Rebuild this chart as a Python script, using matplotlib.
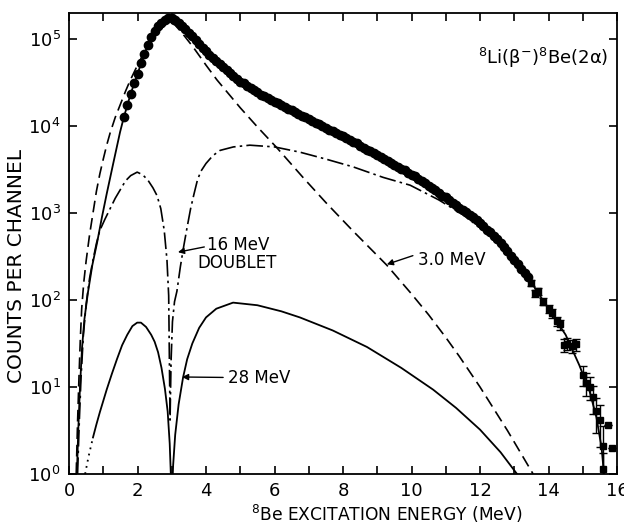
import matplotlib
matplotlib.use("Agg")
import matplotlib.pyplot as plt
import matplotlib.ticker as mticker
import numpy as np

plt.rcParams["font.family"] = "DejaVu Sans"
plt.rcParams["axes.linewidth"] = 1.3
plt.rcParams["mathtext.default"] = "regular"

# measured 8Be spectrum: excitation energy (MeV) and log10(counts per channel)
data_E = [1.6, 1.7, 1.8, 1.9, 2.0, 2.1, 2.2, 2.3, 2.4, 2.5, 2.6, 2.7, 2.8, 2.9,
          3.0, 3.1, 3.2, 3.3, 3.4, 3.5, 3.6, 3.7, 3.8, 3.9, 4.0, 4.1, 4.2, 4.3,
          4.4, 4.5, 4.6, 4.7, 4.8, 4.9, 5.0, 5.1, 5.2, 5.3, 5.4, 5.5, 5.6, 5.7,
          5.8, 5.9, 6.0, 6.1, 6.2, 6.3, 6.4, 6.5, 6.6, 6.7, 6.8, 6.9, 7.0, 7.1,
          7.2, 7.3, 7.4, 7.5, 7.6, 7.7, 7.8, 7.9, 8.0, 8.1, 8.2, 8.3, 8.4, 8.5,
          8.6, 8.7, 8.8, 8.9, 9.0, 9.1, 9.2, 9.3, 9.4, 9.5, 9.6, 9.7, 9.8, 9.9,
          10.0, 10.1, 10.2, 10.3, 10.4, 10.5, 10.6, 10.7, 10.8, 10.9, 11.0, 11.1,
          11.2, 11.3, 11.4, 11.5, 11.6, 11.7, 11.8, 11.9, 12.0, 12.1, 12.2, 12.3,
          12.4, 12.5, 12.6, 12.7, 12.8, 12.9, 13.0, 13.1, 13.2, 13.3, 13.4]
data_lg = [4.10, 4.24, 4.37, 4.49, 4.60, 4.72, 4.83, 4.93, 5.02, 5.09, 5.15, 5.19, 5.22, 5.24,
           5.24, 5.22, 5.19, 5.15, 5.11, 5.07, 5.03, 4.99, 4.94, 4.90, 4.86, 4.82, 4.78, 4.75,
           4.71, 4.68, 4.64, 4.61, 4.57, 4.54, 4.51, 4.49, 4.46, 4.44, 4.41, 4.39, 4.36, 4.34,
           4.32, 4.30, 4.28, 4.26, 4.24, 4.22, 4.20, 4.18, 4.16, 4.14, 4.12, 4.10, 4.08, 4.06,
           4.04, 4.02, 4.00, 3.98, 3.96, 3.94, 3.92, 3.90, 3.88, 3.86, 3.84, 3.82, 3.80, 3.77,
           3.75, 3.73, 3.71, 3.69, 3.67, 3.64, 3.62, 3.60, 3.58, 3.55, 3.53, 3.51, 3.49, 3.46,
           3.44, 3.42, 3.39, 3.37, 3.34, 3.31, 3.29, 3.26, 3.23, 3.20, 3.18, 3.15,
           3.12, 3.09, 3.06, 3.04, 3.01, 2.98, 2.95, 2.92, 2.88, 2.85, 2.81, 2.78,
           2.74, 2.70, 2.66, 2.61, 2.56, 2.51, 2.46, 2.41, 2.36, 2.31, 2.26]

# high-energy points with error bars (counts)
tail_E = [13.5, 13.6, 13.7, 13.85, 14.0, 14.1, 14.25, 14.35, 14.45, 14.55, 14.7, 14.8,
          15.0, 15.1, 15.2, 15.3, 15.4, 15.5, 15.75, 15.6, 15.85, 15.6]
tail_lg = [2.20, 2.08, 2.10, 1.98, 1.90, 1.85, 1.76, 1.72, 1.48, 1.50, 1.47, 1.49,
           1.14, 1.05, 1.00, 0.88, 0.72, 0.62, 0.56, 0.32, 0.30, 0.06]
tail_err = [12, 11, 11, 9, 8, 8, 7, 7, 5, 5, 5, 5,
            3.5, 3.3, 3.0, 2.7, 2.3, 2.1, 0, 1.5, 0, 0.6]

# total fit (solid)
fit_E = [0.23, 0.27, 0.32, 0.38, 0.45, 0.55, 0.68, 0.82, 0.96, 1.1, 1.28, 1.49, 1.6,
         1.8, 2.0, 2.25, 2.5, 2.7, 2.85, 2.95, 3.1, 3.3, 3.5, 3.82, 4.3, 5.08, 6.0,
         6.74, 7.5, 8.5, 9.66, 10.5, 11.6, 12.2, 12.88, 13.5, 14.0, 14.5, 14.9, 15.2,
         15.4, 15.55, 15.62]
fit_lg = [0.0, 0.5, 1.0, 1.45, 1.78, 2.08, 2.4, 2.66, 2.95, 3.22, 3.55, 3.93, 4.1,
          4.37, 4.60, 4.88, 5.09, 5.19, 5.23, 5.24, 5.22, 5.15, 5.07, 4.93, 4.75, 4.50, 4.28,
          4.13, 3.98, 3.77, 3.52, 3.31, 3.01, 2.83, 2.50, 2.20, 1.90, 1.60, 1.25, 0.95,
          0.65, 0.30, 0.0]

# 3.0 MeV level (long dashes)
e30_E = [0.21, 0.25, 0.29, 0.33, 0.37, 0.43, 0.5, 0.6, 0.7, 0.8, 0.9, 1.0, 1.1, 1.2,
         1.35, 1.5, 1.65, 1.78, 2.0, 2.2, 2.4, 2.6, 2.8, 2.95, 3.1, 3.3, 3.5, 3.62,
         3.82, 4.0, 4.32, 5.0, 5.5, 6.07, 6.83, 7.5, 8.3, 9.28, 10.0, 10.5, 11.0,
         11.4, 12.0, 12.8, 13.55]
e30_lg = [0.0, 0.6, 1.1, 1.55, 1.9, 2.2, 2.45, 2.75, 3.0, 3.25, 3.45, 3.62, 3.78, 3.92,
          4.1, 4.25, 4.4, 4.52, 4.7, 4.85, 4.98, 5.08, 5.16, 5.19, 5.16, 5.07, 4.97, 4.91,
          4.8, 4.7, 4.53, 4.21, 3.99, 3.75, 3.41, 3.12, 2.79, 2.40, 2.07, 1.83, 1.57,
          1.35, 1.0, 0.5, 0.0]

# 16 MeV doublet (dash-dot)
d16_E = [0.25, 0.3, 0.35, 0.42, 0.5, 0.6, 0.7, 0.8, 0.9, 1.05, 1.2, 1.35, 1.5, 1.65,
         1.8, 1.99, 2.15, 2.3, 2.45, 2.57, 2.68, 2.78, 2.86, 2.91, 2.95, 2.98, 3.02,
         3.08, 3.15, 3.25, 3.35, 3.45, 3.55, 3.65, 3.75, 3.85, 4.0, 4.2, 4.41, 4.8,
         5.28, 6.0, 6.74, 7.5, 8.3, 9.17, 9.96, 10.8, 11.5, 12.1, 12.6, 12.9]
d16_lg = [0.0, 0.6, 1.1, 1.6, 1.95, 2.25, 2.46, 2.65, 2.8, 2.93, 3.05, 3.17, 3.27, 3.37,
          3.43, 3.47, 3.44, 3.38, 3.29, 3.2, 3.05, 2.8, 2.46, 2.05, 0.62, 1.3, 1.75,
          1.98, 2.1, 2.38, 2.62, 2.84, 3.05, 3.22, 3.38, 3.48, 3.57, 3.66, 3.72, 3.76,
          3.78, 3.76, 3.70, 3.62, 3.53, 3.41, 3.32, 3.15, 2.98, 2.80, 2.62, 2.50]

# 28 MeV level (solid) with dotted low-energy start
m28dot_E = [0.47, 0.57, 0.70]
m28dot_lg = [0.0, 0.2, 0.42]
m28_E = [0.70, 0.8, 0.9, 1.0, 1.1, 1.25, 1.4, 1.55, 1.7, 1.85, 1.99, 2.1, 2.25, 2.4,
         2.5, 2.6, 2.7, 2.8, 2.88, 2.94, 3.0, 3.04, 3.1, 3.2, 3.33, 3.45, 3.6, 3.8,
         4.0, 4.3, 4.79, 5.5, 6.2, 6.74, 7.7, 8.7, 9.7, 10.63, 11.3, 12.0, 12.6, 13.08]
m28_lg = [0.42, 0.57, 0.71, 0.84, 0.97, 1.15, 1.32, 1.48, 1.6, 1.7, 1.74, 1.74, 1.69, 1.6,
          1.52, 1.40, 1.22, 0.98, 0.72, 0.35, -0.3, 0.1, 0.45, 0.8, 1.11, 1.32, 1.5, 1.68,
          1.8, 1.9, 1.97, 1.94, 1.87, 1.80, 1.65, 1.46, 1.22, 0.97, 0.76, 0.51, 0.25, 0.0]


def counts(lg):
    return 10 ** np.asarray(lg)


fig = plt.figure(figsize=(6.24, 5.27), dpi=100)
ax = fig.add_axes([0.1106, 0.1006, 0.8782, 0.8748])
ax.set_yscale("log")

ax.plot(fit_E, counts(fit_lg), color="black", lw=1.3)
ax.plot(e30_E, counts(e30_lg), color="black", lw=1.2, dashes=(7, 3.5))
ax.plot(d16_E, counts(d16_lg), color="black", lw=1.2, dashes=(10, 2.5, 1.5, 2.5))
ax.plot(m28_E, counts(m28_lg), color="black", lw=1.3)
ax.plot(m28dot_E, counts(m28dot_lg), color="black", lw=1.3, dashes=(1, 2.5))

ax.plot(data_E, counts(data_lg), "o", ms=6, color="black", zorder=3)
ax.errorbar(tail_E, counts(tail_lg), yerr=tail_err, fmt="s", ms=4.5, color="black",
            elinewidth=1.0, capsize=3, capthick=1.0, zorder=3)

ax.set_xlim(0, 16)
ax.set_ylim(1, 10 ** 5.3)

ax.xaxis.set_major_locator(mticker.MultipleLocator(2))
ax.xaxis.set_minor_locator(mticker.MultipleLocator(1))
ax.yaxis.set_major_locator(mticker.LogLocator(base=10, numticks=10))
ax.yaxis.set_minor_locator(mticker.NullLocator())
ax.yaxis.set_major_formatter(
    mticker.FuncFormatter(lambda v, p: r"$10^{%d}$" % int(round(np.log10(v)))))

ax.tick_params(axis="both", which="both", direction="in", top=True, right=True,
               length=6, width=1.2, labelsize=13, pad=6)

ax.set_xlabel(r"$^8$Be EXCITATION ENERGY (MeV)", fontsize=12.3)
ax.xaxis.set_label_coords(0.58, -0.062)
ax.set_ylabel("COUNTS PER CHANNEL", fontsize=14.5)
ax.yaxis.set_label_coords(-0.078, 0.452)

ax.text(0.984, 0.902, r"$^8$Li($\beta^{-}$)$^8$Be(2$\alpha$)", transform=ax.transAxes,
        ha="right", va="center", fontsize=13)

arrow = dict(arrowstyle="-|>", color="black", lw=1.0, mutation_scale=9, shrinkA=0, shrinkB=0)
ax.annotate("", xy=(3.18, 10 ** 2.55), xytext=(3.95, 10 ** 2.61), arrowprops=arrow)
ax.text(4.03, 10 ** 2.63, "16 MeV", fontsize=12, ha="left", va="center")
ax.text(3.74, 10 ** 2.43, "DOUBLET", fontsize=12, ha="left", va="center")
ax.annotate("", xy=(3.30, 10 ** 1.115), xytext=(4.5, 10 ** 1.11), arrowprops=arrow)
ax.text(4.64, 10 ** 1.10, "28 MeV", fontsize=12, ha="left", va="center")
ax.annotate("", xy=(9.28, 10 ** 2.41), xytext=(10.04, 10 ** 2.51), arrowprops=arrow)
ax.text(10.19, 10 ** 2.46, "3.0 MeV", fontsize=12, ha="left", va="center")

fig.savefig("out.png", dpi=100)
